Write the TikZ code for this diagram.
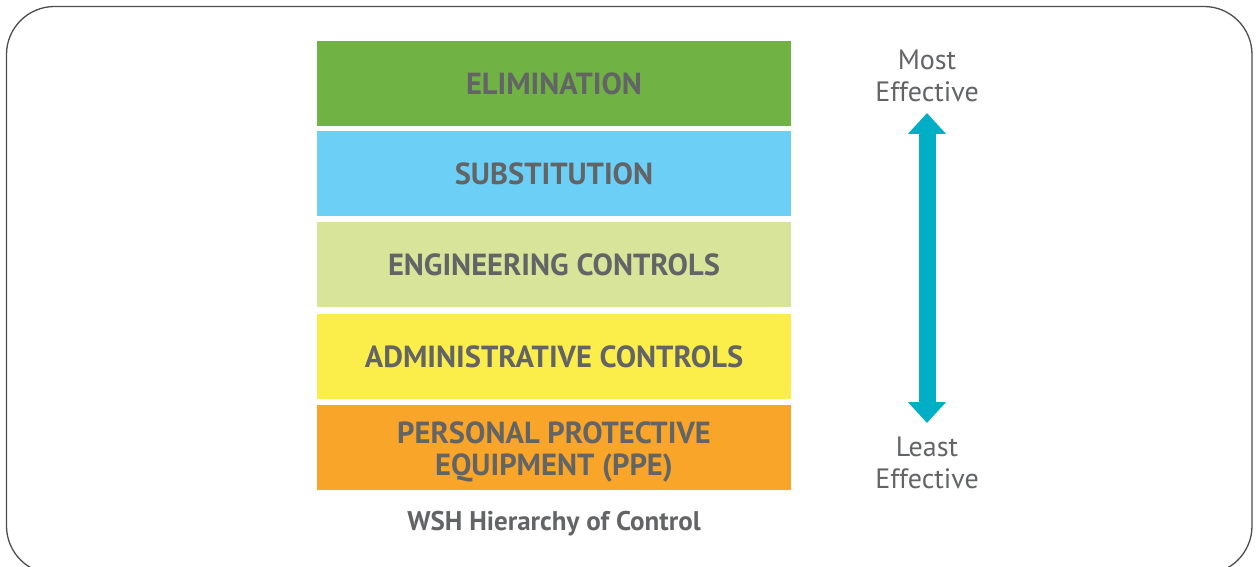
\documentclass[tikz,border=0pt]{standalone}
\usepackage{fontspec}
\setmainfont{PT Sans}
\usepackage{xcolor}
\usepackage{tikz}
\usetikzlibrary{arrows.meta,positioning}
\definecolor{label}{HTML}{636466}
\definecolor{frame}{HTML}{4D4D4F}
\definecolor{elim}{HTML}{70B244}
\definecolor{subst}{HTML}{6BCFF6}
\definecolor{engin}{HTML}{D7E49A}
\definecolor{admin}{HTML}{FCEE4A}
\definecolor{ppe}{HTML}{F8A52A}
\definecolor{teal}{HTML}{00AEC6}
\tikzset{
  Level/.style={
    fill=#1, draw=none,
    minimum width=474pt, minimum height=85pt,
    inner sep=0pt, align=center,
    text=label, font=\bfseries\fontsize{30.5}{32}\selectfont
  },
  Scale/.style={
    text=label, align=center, inner sep=0pt,
    font=\fontsize{28}{32}\selectfont
  },
  EffArrow/.style={
    draw=teal, line width=17pt,
    {Triangle[width=37pt,length=21pt]}-{Triangle[width=37pt,length=21pt]}
  }
}

\begin{document}
\begin{tikzpicture}[x=1pt, y=-1pt, line cap=butt, line join=round]
  \useasboundingbox (0,0) rectangle (1259,567);
  % outer frame, bottom runs off the page
  \begin{scope}
    \clip (0,0) rectangle (1259,567);
    \draw[frame, line width=1.3pt, rounded corners=48pt] (6.5,6.5) rectangle (1252,574);
  \end{scope}

  % hierarchy levels, most effective first
  \node[Level=elim]  (elim)  at (554,83.5)  {ELIMINATION};
  \node[Level=subst] (subst) at (554,173.5) {SUBSTITUTION};
  \node[Level=engin] (engin) at (554,264.5) {ENGINEERING CONTROLS};
  \node[Level=admin] (admin) at (554,356.5) {ADMINISTRATIVE CONTROLS};
  \node[Level=ppe]   (ppe)   at (554,447.5) {\rule{0pt}{31pt}PERSONAL PROTECTIVE\\EQUIPMENT (PPE)};

  \node[text=label, font=\bfseries\fontsize{27}{30}\selectfont] (title) at (554,524) {WSH Hierarchy of Control};

  % effectiveness scale
  \node[Scale] (most)  at (927,76)  {Most\\Effective};
  \node[Scale] (least) at (927,463) {Least\\Effective};
  \coordinate (top) at (927,113);
  \coordinate (bot) at (927,423);
  \draw[EffArrow] (bot) -- (top);
\end{tikzpicture}
\end{document}
